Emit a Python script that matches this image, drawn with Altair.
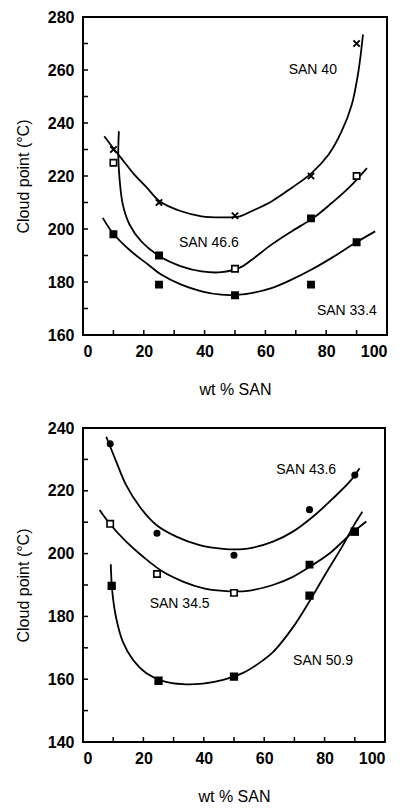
import altair as alt
import pandas as pd

# ---------------- data: top panel ----------------
top_pts_x = [10, 25, 50, 75, 90]
san40_y = [230, 210, 205, 220, 270]
san466_y = [225, 190, 185, 204, 220]
san466_fill = ["open", "filled", "open", "filled", "open"]
san334_y = [198, 179, 175, 179, 195]

san40_cx = [7.0, 10.3, 13.5, 16.9, 21, 25.2, 32.3, 39, 45.5, 51.6, 55.4, 62, 68.6, 75.2, 80.8, 85.1, 88.4, 90.6, 92.1]
san40_cy = [235, 230, 225.4, 220.5, 215.6, 210.5, 206.7, 204.8, 204.4, 204.8, 206.7, 210.4, 215.5, 221.1, 228.1, 236.9, 246.9, 259.5, 273.4]
san466_cx = [11.8, 11.6, 12.0, 13.1, 15.3, 19.1, 25.2, 32.3, 39, 45.5, 51.6, 55.4, 62, 68.6, 75.8, 81.8, 87.4, 93.4]
san466_cy = [236.9, 228.1, 219.2, 209.2, 201.7, 195.4, 189.7, 185.9, 184.0, 183.7, 185.4, 188.3, 194.1, 199.1, 204.2, 209.8, 215.5, 223.0]
san334_cx = [6.5, 9.8, 15.8, 21.4, 25.7, 32.3, 39, 45.5, 51.5, 55.4, 62, 68.6, 75.2, 81.8, 89.5, 96.1]
san334_cy = [204.2, 198.5, 191.6, 186.6, 182.8, 179, 176.5, 175.2, 175.2, 175.8, 177.7, 180.9, 184.7, 189.1, 194.7, 199.1]

top_labels = ["SAN 40", "SAN 46.6", "SAN 33.4"]
top_label_x = [75.6, 41.4, 86.8]
top_label_y = [260, 194.7, 169.2]

# ---------------- data: bottom panel ----------------
san436_x = [9, 24.5, 50, 75, 90]
san436_y = [235, 206.5, 199.5, 214, 225]
san345_x = [9, 24.5, 50, 75, 90]
san345_y = [209.5, 193.5, 187.5, 196.5, 207]
san345_fill = ["open", "open", "open", "filled", "filled"]
san509_x = [9.5, 25, 50, 75, 90]
san509_y = [189.7, 159.5, 160.8, 186.6, 207]

san436_cx = [7.7, 11.0, 14.3, 18.8, 24.3, 30.9, 38.6, 46.4, 53, 56.3, 62.9, 69.5, 76.2, 82.8, 88.3, 91.6]
san436_cy = [237.2, 229.3, 221.8, 214.9, 209.1, 205.4, 202.7, 201.5, 201.4, 201.9, 203.8, 207, 211.8, 217.6, 222.9, 227.2]
san345_cx = [5.5, 8.8, 14.3, 19.9, 26.5, 33.1, 39.7, 46.4, 53, 56.3, 62.9, 69.5, 75.1, 81.7, 88.3, 93.8]
san345_cy = [213.9, 209.6, 203.8, 199.0, 194.2, 191.1, 189.0, 188.1, 188.0, 188.4, 190, 192.6, 195.8, 200.1, 205.9, 210.2]
san509_cx = [9.2, 9.7, 11, 13.2, 16.6, 21, 26.5, 33.1, 39.7, 46.4, 53, 59.6, 62.9, 69.5, 75.1, 80.6, 86.1, 89.4, 92.5]
san509_cy = [196.6, 187.9, 179.4, 171.9, 166.1, 161.9, 159.4, 158.4, 158.6, 159.8, 162.0, 166.0, 168.6, 176.5, 185.0, 194.0, 202.7, 208.5, 213.3]

bot_labels = ["SAN 43.6", "SAN 34.5", "SAN 50.9"]
bot_label_x = [73.9, 32, 79.5]
bot_label_y = [226.6, 184, 165.8]

x_ticks_labeled = [0, 20, 40, 60, 80, 100]
x_minor = [10, 20, 30, 40, 50, 60, 70, 80, 90]
top_y_labeled = [160, 180, 200, 220, 240, 260, 280]
top_y_minor = [170, 180, 190, 200, 210, 220, 230, 240, 250, 260, 270]
bot_y_labeled = [140, 160, 180, 200, 220, 240]
bot_y_minor = [150, 160, 170, 180, 190, 200, 210, 220, 230]

FONT = "Liberation Sans"
XMARK = "M-1,-1L1,1M1,-1L-1,1"


def curves_df(curves):
    rows = []
    for name, xs, ys in curves:
        for i, (a, b) in enumerate(zip(xs, ys)):
            rows.append({"series": name, "x": a, "y": b, "i": i})
    return pd.DataFrame(rows)


def panel(curves, point_layers, labels, ydom, y_lab, y_minor, w, h):
    xs = alt.Scale(domain=[0, 100], nice=False, zero=False)
    ys = alt.Scale(domain=ydom, nice=False, zero=False)
    xenc = alt.X("x:Q", scale=xs, axis=alt.Axis(values=x_ticks_labeled, title="wt % SAN", ticks=False,
                                                 domain=False, grid=False, labelPadding=8, titlePadding=22))
    yenc = alt.Y("y:Q", scale=ys, axis=alt.Axis(values=y_lab, title="Cloud point (°C)", ticks=False,
                                                 domain=False, grid=False, labelPadding=9, titlePadding=16))
    layers = []
    layers.append(alt.Chart(curves_df(curves)).mark_line(color="black", strokeWidth=1.8,
                                                         interpolate="catmull-rom").encode(
        x=xenc, y=yenc, detail="series:N", order="i:Q"))
    for df, shape, filled, size in point_layers:
        if filled is None:
            layers.append(alt.Chart(df).mark_point(shape=shape, filled=False, color="black", strokeWidth=2,
                                                   size=size, opacity=1).encode(x="x:Q", y="y:Q"))
        else:
            layers.append(alt.Chart(df).mark_point(shape=shape, filled=True, strokeWidth=1.6, stroke="black",
                                                   size=size, opacity=1).encode(
                x="x:Q", y="y:Q",
                fill=alt.Fill("fill:N", scale=alt.Scale(domain=["open", "filled"], range=["white", "black"]),
                              legend=None)))
    lab = pd.DataFrame({"x": labels[1], "y": labels[2], "t": labels[0]})
    layers.append(alt.Chart(lab).mark_text(font=FONT, fontSize=14, color="black").encode(
        x="x:Q", y="y:Q", text="t:N"))
    yt = pd.DataFrame({"y": y_minor})
    layers.append(alt.Chart(yt).mark_rule(color="black", strokeWidth=1.5).encode(
        y="y:Q", x=alt.value(0), x2=alt.value(5)))
    xt = pd.DataFrame({"x": x_minor})
    layers.append(alt.Chart(xt).mark_rule(color="black", strokeWidth=1.5).encode(
        x="x:Q", y=alt.value(h), y2=alt.value(h - 5)))
    return alt.layer(*layers).properties(width=w, height=h)


top = panel(
    [("40", san40_cx, san40_cy), ("46.6", san466_cx, san466_cy), ("33.4", san334_cx, san334_cy)],
    [
        (pd.DataFrame({"x": top_pts_x, "y": san40_y}), XMARK, None, 40),
        (pd.DataFrame({"x": top_pts_x, "y": san466_y, "fill": san466_fill}), "square", True, 40),
        (pd.DataFrame({"x": top_pts_x, "y": san334_y, "fill": ["filled"] * 5}), "square", True, 40),
    ],
    (top_labels, top_label_x, top_label_y), [160, 280], top_y_labeled, top_y_minor, 304, 318)

bottom = panel(
    [("43.6", san436_cx, san436_cy), ("34.5", san345_cx, san345_cy), ("50.9", san509_cx, san509_cy)],
    [
        (pd.DataFrame({"x": san436_x, "y": san436_y, "fill": ["filled"] * 5}), "circle", True, 30),
        (pd.DataFrame({"x": san345_x, "y": san345_y, "fill": san345_fill}), "square", True, 40),
        (pd.DataFrame({"x": san509_x, "y": san509_y, "fill": ["filled"] * 5}), "square", True, 45),
    ],
    (bot_labels, bot_label_x, bot_label_y), [140, 240], bot_y_labeled, bot_y_minor, 302, 314)

chart = alt.vconcat(top, bottom, spacing=21).properties(
    padding={"left": 6, "top": 0, "right": 5, "bottom": 5}
).configure_view(stroke="black", strokeWidth=2).configure_axis(
    labelFont=FONT, labelFontSize=16, labelFontWeight="bold", labelColor="black",
    titleFont=FONT, titleFontSize=16, titleFontWeight="normal", titleColor="black"
)

chart.save("out.html", embed_options={"renderer": "svg", "actions": False})
